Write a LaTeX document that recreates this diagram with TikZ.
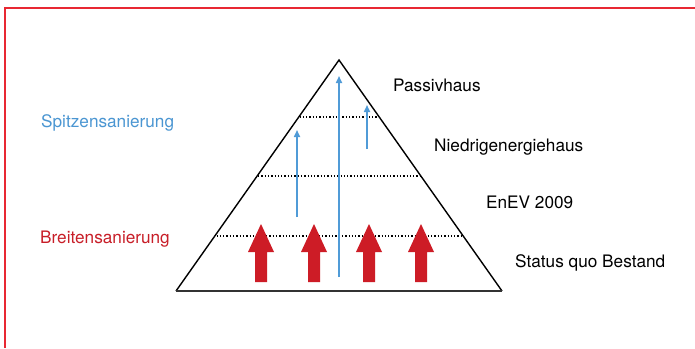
\documentclass[tikz,border=0pt]{standalone}
\usepackage{fontspec}
\setmainfont{TeX Gyre Heros}
\usetikzlibrary{arrows.meta}
\definecolor{frame}{RGB}{232,40,50}
\definecolor{lblue}{RGB}{80,155,215}
\definecolor{dred}{RGB}{205,28,38}
\definecolor{tblue}{RGB}{75,150,210}
\definecolor{tred}{RGB}{200,30,40}
\tikzset{
  lbl/.style={anchor=base west, inner sep=0pt, font=\fontsize{17.2}{19}\selectfont},
  level/.style={dotted, line width=1.3pt, line cap=butt},
  uparrow/.style={lblue, line width=1.6pt, -{Triangle[length=7pt,width=6pt]}},
}
\newcommand{\bigarrow}[1]{%
  \fill[dred] (#1-6,282) -- (#1-6,252) -- (#1-13,252) -- (#1,224) -- (#1+13,252) -- (#1+6,252) -- (#1+6,282) -- cycle;}
\begin{document}
\begin{tikzpicture}[x=1pt,y=-1pt]
\useasboundingbox (0,0) rectangle (695,348);
\fill[white] (0,0) rectangle (695,348);
% frame
\draw[frame, line width=2pt] (5,348) -- (5,8) -- (695,8);
% pyramid
\coordinate (apex) at (339,60);
\coordinate (bl) at (176,291);
\coordinate (br) at (502,291);
\draw[line width=1.4pt, line join=miter] (bl) -- (apex) -- (br);
\draw[line width=2.2pt, black!80] (bl) -- (br);
% levels
\draw[level] (299.5,117) -- (378.5,117);
\draw[level] (258,176) -- (420,176);
\draw[level] (216.5,236) -- (461.5,236);
% red arrows
\bigarrow{261}
\bigarrow{314}
\bigarrow{369}
\bigarrow{421}
% blue arrows
\coordinate (b1s) at (339,277); \coordinate (b1e) at (339,76);
\coordinate (b2s) at (297,217); \coordinate (b2e) at (297,130);
\coordinate (b3s) at (367,149); \coordinate (b3e) at (367,105);
\draw[uparrow] (b1s) -- (b1e);
\draw[uparrow] (b2s) -- (b2e);
\draw[uparrow] (b3s) -- (b3e);
% labels
\node[lbl] (passiv) at (393,91.5) {Passivhaus};
\node[lbl] (niedrig) at (434,151) {Niedrigenergiehaus};
\node[lbl] (enev) at (486,208) {EnEV 2009};
\node[lbl] (status) at (515,267) {Status quo Bestand};
\node[lbl, text=tblue] (spitze) at (41,127) {Spitzensanierung};
\node[lbl, text=tred] (breite) at (40,243) {Breitensanierung};
\end{tikzpicture}
\end{document}
